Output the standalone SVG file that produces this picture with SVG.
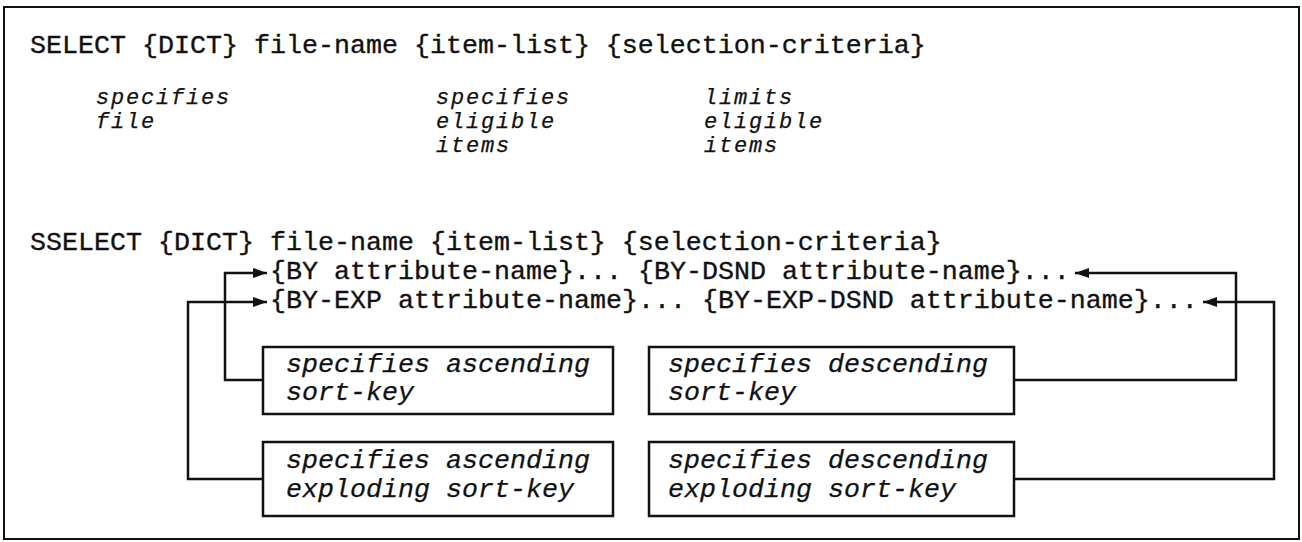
<svg xmlns="http://www.w3.org/2000/svg" width="1302" height="542" viewBox="0 0 1302 542">
  <style>
    .mono { font-family: "Liberation Mono", "DejaVu Sans Mono", monospace; font-size: 26.67px; fill: #111; stroke: #111; stroke-width: 0.35; }
    .ital { font-family: "Liberation Mono", "DejaVu Sans Mono", monospace; font-size: 26.67px; font-style: italic; fill: #111; stroke: #111; stroke-width: 0.25; }
    .note { font-family: "Liberation Mono", "DejaVu Sans Mono", monospace; font-size: 22px; letter-spacing: 1.8px; font-style: italic; fill: #111; stroke: #111; stroke-width: 0.25; }
    .frame { fill: none; stroke: #111; stroke-width: 2; }
    .box { fill: #fff; stroke: #111; stroke-width: 2.5; }
    .wire { fill: none; stroke: #111; stroke-width: 2.5; }
  </style>
  <defs>
    <marker id="head" viewBox="0 0 14 10" refX="14" refY="5" markerWidth="14" markerHeight="10" markerUnits="userSpaceOnUse" orient="auto">
      <path d="M0,0 L14,5 L0,10 Z" fill="#111"/>
    </marker>
  </defs>

  <rect width="1302" height="542" fill="#fff"/>
  <rect class="frame" x="4" y="7" width="1295" height="532"/>

  <!-- SELECT syntax and its annotations -->
  <g id="select-syntax">
    <text class="mono" x="30" y="53">SELECT {DICT} file-name {item-list} {selection-criteria}</text>
  </g>
  <g id="note-file">
    <text class="note" x="96" y="104">specifies</text>
    <text class="note" x="96" y="128">file</text>
  </g>
  <g id="note-items">
    <text class="note" x="436" y="104">specifies</text>
    <text class="note" x="436" y="128">eligible</text>
    <text class="note" x="436" y="152">items</text>
  </g>
  <g id="note-criteria">
    <text class="note" x="704" y="104">limits</text>
    <text class="note" x="704" y="128">eligible</text>
    <text class="note" x="704" y="152">items</text>
  </g>

  <!-- SSELECT syntax with sort clauses -->
  <g id="sselect-syntax">
    <text class="mono" x="30" y="250">SSELECT {DICT} file-name {item-list} {selection-criteria}</text>
    <text class="mono" x="270" y="279">{BY attribute-name}... {BY-DSND attribute-name}...</text>
    <text class="mono" x="270" y="308">{BY-EXP attribute-name}... {BY-EXP-DSND attribute-name}...</text>
  </g>

  <g id="asc-key">
    <rect class="box" x="263" y="347" width="350" height="67"/>
    <text class="ital" x="286" y="372">specifies ascending</text>
    <text class="ital" x="286" y="400">sort-key</text>
  </g>
  <g id="desc-key">
    <rect class="box" x="649" y="347" width="365" height="67"/>
    <text class="ital" x="668" y="372">specifies descending</text>
    <text class="ital" x="668" y="400">sort-key</text>
  </g>
  <g id="asc-exp-key">
    <rect class="box" x="263" y="442" width="350" height="74"/>
    <text class="ital" x="286" y="468">specifies ascending</text>
    <text class="ital" x="286" y="497">exploding sort-key</text>
  </g>
  <g id="desc-exp-key">
    <rect class="box" x="649" y="442" width="365" height="74"/>
    <text class="ital" x="668" y="468">specifies descending</text>
    <text class="ital" x="668" y="497">exploding sort-key</text>
  </g>

  <!-- connectors from each note box to its clause -->
  <g id="connectors">
    <path class="wire" d="M263,380 H225 V273 H267" marker-end="url(#head)"/>
    <path class="wire" d="M263,479 H188 V302 H267" marker-end="url(#head)"/>
    <path class="wire" d="M1014,380 H1236 V273 H1075" marker-end="url(#head)"/>
    <path class="wire" d="M1014,479 H1274 V302 H1203" marker-end="url(#head)"/>
  </g>
</svg>
